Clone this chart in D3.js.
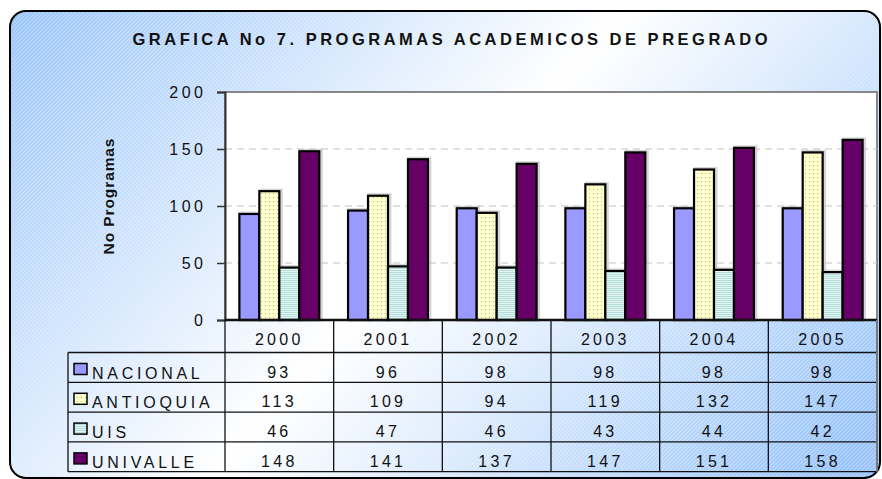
<!DOCTYPE html>
<html><head><meta charset="utf-8">
<script src="https://cdn.jsdelivr.net/npm/d3@7"></script>
<style>body{margin:0;background:#fff}svg{display:block}text{font-family:"Liberation Sans",Arial,sans-serif}</style>
</head><body><svg id="c" width="882" height="479"></svg>
<script>
const years = ["2000","2001","2002","2003","2004","2005"];
const seriesNames = ["NACIONAL","ANTIOQUIA","UIS","UNIVALLE"];
const nacional = [93,96,98,98,98,98];
const antioquia = [113,109,94,119,132,147];
const uis = [46,47,46,43,44,42];
const univalle = [148,141,137,147,151,158];
const yTicks = [0,50,100,150,200];
const title = "GRAFICA No 7. PROGRAMAS ACADEMICOS DE PREGRADO";
const yTitle = "No Programas";

const seriesValues = [nacional, antioquia, uis, univalle];
const svg = d3.select("#c");
const defs = svg.append("defs");

const bg = defs.append("linearGradient").attr("id","bg").attr("gradientUnits","userSpaceOnUse")
  .attr("x1",10).attr("y1",11).attr("x2",700).attr("y2",620);
bg.append("stop").attr("offset",0).attr("stop-color","#9cc6fa");
bg.append("stop").attr("offset",0.5).attr("stop-color","#ffffff");
bg.append("stop").attr("offset",1).attr("stop-color","#9cc6fa");

const st = defs.append("pattern").attr("id","stripes").attr("patternUnits","userSpaceOnUse")
  .attr("width",4).attr("height",4);
st.append("path").attr("d","M-1,1 L1,-1 M0,4 L4,0 M3,5 L5,3").attr("stroke","#ffffff").attr("stroke-width",0.7).attr("opacity",0.45);

const dots = defs.append("pattern").attr("id","dots").attr("patternUnits","userSpaceOnUse")
  .attr("width",4).attr("height",4);
dots.append("rect").attr("width",4).attr("height",4).attr("fill","#ffffcc");
dots.append("rect").attr("x",1).attr("y",1).attr("width",1).attr("height",1).attr("fill","#b8b890");

const hl = defs.append("pattern").attr("id","hlines").attr("patternUnits","userSpaceOnUse")
  .attr("width",4).attr("height",2);
hl.append("rect").attr("width",4).attr("height",2).attr("fill","#e2f6f4");
hl.append("rect").attr("width",4).attr("height",1).attr("fill","#b4dcda");

const fills = ["#9999ff","url(#dots)","url(#hlines)","#660066"];

// outer frame
svg.append("rect").attr("x",10).attr("y",11).attr("width",870).attr("height",467).attr("rx",16)
  .attr("fill","url(#bg)").attr("stroke","#000").attr("stroke-width",2);
svg.append("rect").attr("x",11).attr("y",12).attr("width",868).attr("height",465).attr("rx",15)
  .attr("fill","url(#stripes)");

// title
svg.append("text").attr("x",450).attr("y",45).attr("text-anchor","middle")
  .style("font-size","16.5px").attr("font-weight","bold").attr("fill","#111")
  .attr("textLength",635).attr("lengthAdjust","spacing").text(title);

const L=225, R=877, T=92, B=320;
const x = d3.scaleBand().domain(years).range([L,R]).padding(0);
const xi = d3.scaleBand().domain(seriesNames).range([0,x.bandwidth()]).paddingInner(0).paddingOuter(0.72);
const y = d3.scaleLinear().domain([0,200]).range([B,T]);

// plot area
svg.append("rect").attr("x",L).attr("y",T).attr("width",R-L).attr("height",B-T).attr("fill","#fff")
  .attr("stroke","#888").attr("stroke-width",2);
svg.append("g").selectAll("line").data(yTicks.filter(d=>d>0&&d<200)).join("line")
  .attr("x1",L).attr("x2",R).attr("y1",d=>y(d)).attr("y2",d=>y(d))
  .attr("stroke","#c4c4c4").attr("stroke-width",1.2).attr("stroke-dasharray","7,5");

// bars
const gBars = svg.append("g");
seriesNames.forEach((s,si)=>{
  const vals = seriesValues[si];
  gBars.append("g").selectAll("rect.sh").data(vals).join("rect")
    .attr("x",(d,i)=>x(years[i])+xi(s)+1).attr("y",d=>y(d)-1).attr("width",xi.bandwidth()+1).attr("height",d=>B-y(d)+1)
    .attr("fill","none").attr("stroke","#bbb").attr("stroke-width",3).attr("opacity",0.6);
});
seriesNames.forEach((s,si)=>{
  const vals = seriesValues[si];
  gBars.append("g").selectAll("rect").data(vals).join("rect")
    .attr("x",(d,i)=>x(years[i])+xi(s)).attr("y",d=>y(d)).attr("width",xi.bandwidth()).attr("height",d=>B-y(d))
    .attr("fill",fills[si]).attr("stroke","#000").attr("stroke-width",2.2);
});

// y axis
const yAxis = svg.append("g").attr("transform",`translate(${L},0)`)
  .call(d3.axisLeft(y).tickValues(yTicks).tickSize(8).tickPadding(12));
yAxis.attr("font-size",null).attr("font-family",null);
yAxis.select(".domain").attr("stroke","#333").attr("stroke-width",2);
yAxis.selectAll(".tick line").attr("stroke","#333").attr("stroke-width",1.5);
yAxis.selectAll(".tick text").style("font-size","16px").attr("fill","#111").style("letter-spacing","3.5px")
  .attr("dx","1.5px").attr("dy","0.36em");
svg.append("text").attr("transform","translate(114,196) rotate(-90)").attr("text-anchor","middle")
  .style("font-size","15.5px").attr("font-weight","bold").style("letter-spacing","0.9px").attr("fill","#111").text(yTitle);

// x axis line
svg.append("line").attr("x1",L).attr("x2",R).attr("y1",B).attr("y2",B).attr("stroke","#111").attr("stroke-width",2.5);

// data table
const tb = svg.append("g");
const rowH = 29.8, hdrB = 352.5, TL = 68;
const rowY = i => hdrB + i*rowH;
const tableBottom = rowY(4);
for (let i=0;i<=4;i++){
  tb.append("line").attr("x1",TL).attr("x2",R).attr("y1",rowY(i)).attr("y2",rowY(i)).attr("stroke","#111").attr("stroke-width",1.3);
}
tb.append("line").attr("x1",TL).attr("x2",TL).attr("y1",hdrB).attr("y2",tableBottom).attr("stroke","#111").attr("stroke-width",1.3);
years.forEach(yv=>{
  tb.append("line").attr("x1",x(yv)).attr("x2",x(yv)).attr("y1",B).attr("y2",tableBottom).attr("stroke","#111").attr("stroke-width",1.3);
});
tb.append("line").attr("x1",R).attr("x2",R).attr("y1",B).attr("y2",tableBottom).attr("stroke","#777").attr("stroke-width",2);
tb.selectAll("text.h").data(years).join("text").attr("class","h")
  .attr("x",d=>x(d)+x.bandwidth()/2).attr("y",345).attr("text-anchor","middle")
  .style("font-size","16px").style("letter-spacing","3.3px").attr("fill","#111").text(d=>d);
seriesNames.forEach((s,si)=>{
  const yy = rowY(si);
  tb.append("rect").attr("x",74).attr("y",yy+11).attr("width",13).attr("height",11)
    .attr("fill",fills[si]).attr("stroke","#000").attr("stroke-width",1.5);
  tb.append("text").attr("x",92).attr("y",yy+26).style("font-size","16px").style("letter-spacing","3.7px")
    .attr("fill","#111").text(s);
  tb.selectAll(null).data(seriesValues[si]).join("text")
    .attr("x",(d,i)=>x(years[i])+x.bandwidth()/2).attr("y",yy+25).attr("text-anchor","middle")
    .style("font-size","16px").style("letter-spacing","3.3px").attr("fill","#111").text(d=>d);
});
</script></body></html>
